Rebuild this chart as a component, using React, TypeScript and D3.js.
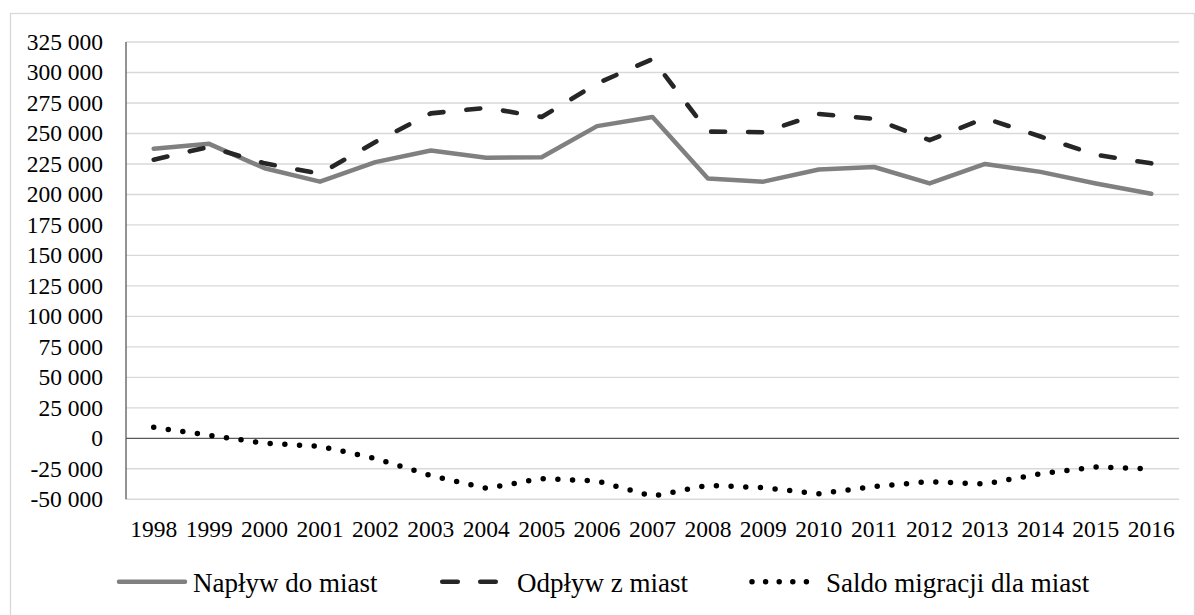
import React from "react";
import * as d3 from "d3";

const years = ["1998","1999","2000","2001","2002","2003","2004","2005","2006","2007","2008","2009","2010","2011","2012","2013","2014","2015","2016"];
const naplyw = [237500, 241500, 221500, 210500, 226500, 236000, 230000, 230500, 256000, 263500, 213000, 210500, 220500, 222500, 209000, 225000, 218500, 209000, 200500];
const odplyw = [228500, 239000, 225500, 217000, 243000, 266500, 271000, 263500, 291000, 311000, 251500, 251000, 266000, 262000, 244500, 262500, 247500, 232500, 225500];
const saldo = [9000, 2500, -4000, -6500, -16500, -30500, -41000, -33000, -35000, -47500, -38500, -40500, -45500, -39500, -35500, -37500, -29000, -23500, -25000];
const yTicks = [-50000, -25000, 0, 25000, 50000, 75000, 100000, 125000, 150000, 175000, 200000, 225000, 250000, 275000, 300000, 325000];
const seriesNames = ["Napływ do miast", "Odpływ z miast", "Saldo migracji dla miast"];

const W = 1195;
const H = 615;
const FONT = "Liberation Serif, Times New Roman, serif";

const locale = d3.formatLocale({ thousands: " ", grouping: [3], decimal: ",", currency: ["", ""], minus: "-" });
const fmt = locale.format(",d");

export default function App() {
  const x = d3.scaleBand<string>().domain(years).range([126, 1179]).padding(0);
  const y = d3.scaleLinear().domain([-50000, 325000]).range([499.3, 42]);
  const cx = (i: number) => (x(years[i]) as number) + x.bandwidth() / 2;

  const line = d3
    .line<number>()
    .x((_, i) => cx(i))
    .y((d) => y(d));

  const plotLeft = 126;
  const plotRight = 1179;
  const legendY = 581.7;

  return (
    <svg width={W} height={H} style={{ position: "absolute", left: 0, top: 0, background: "#fff" }}>
      <rect x={0} y={0} width={W} height={H} fill="#fff" />
      <rect x={10.5} y={13.5} width={1184} height={610} fill="none" stroke="#d9d9d9" strokeWidth={1.3} />
      {yTicks.map((t) => (
        <g key={t}>
          {t !== 0 && (
            <line x1={plotLeft} x2={plotRight} y1={y(t)} y2={y(t)} stroke="#d9d9d9" strokeWidth={1.4} />
          )}
          <text x={103} y={y(t)} dy="0.33em" textAnchor="end" fontFamily={FONT} fontSize={23.5} fill="#000">
            {fmt(t)}
          </text>
        </g>
      ))}
      <line x1={plotLeft} x2={plotRight} y1={y(0)} y2={y(0)} stroke="#595959" strokeWidth={1.3} />
      <line x1={plotLeft} x2={plotLeft} y1={y(325000)} y2={y(-50000)} stroke="#595959" strokeWidth={1.3} />
      {years.map((yr, i) => (
        <text key={yr} x={cx(i)} y={536.7} textAnchor="middle" fontFamily={FONT} fontSize={23.5} fill="#000">
          {yr}
        </text>
      ))}
      <path d={line(naplyw) || ""} fill="none" stroke="#808080" strokeWidth={4.5} strokeLinejoin="round" strokeLinecap="round" />
      <path d={line(odplyw) || ""} fill="none" stroke="#262626" strokeWidth={4.6} strokeDasharray="14 23" strokeLinejoin="round" strokeLinecap="round" />
      <path d={line(saldo) || ""} fill="none" stroke="#000" strokeWidth={5.5} strokeDasharray="0 14.7" strokeLinejoin="round" strokeLinecap="round" />
      <line x1={119} x2={185} y1={legendY} y2={legendY} stroke="#808080" strokeWidth={4.5} strokeLinecap="round" />
      <text x={193} y={591.7} fontFamily={FONT} fontSize={27} fill="#000">{seriesNames[0]}</text>
      <line x1={442.25} x2={495.75} y1={legendY} y2={legendY} stroke="#262626" strokeWidth={4.6} strokeDasharray="15.5 22.5" strokeLinecap="round" />
      <text x={517} y={591.7} fontFamily={FONT} fontSize={27} fill="#000">{seriesNames[1]}</text>
      <line x1={752} x2={806.5} y1={legendY} y2={legendY} stroke="#000" strokeWidth={5.5} strokeDasharray="0 13.6" strokeLinecap="round" />
      <text x={826} y={591.7} fontFamily={FONT} fontSize={27} fill="#000">{seriesNames[2]}</text>
    </svg>
  );
}
